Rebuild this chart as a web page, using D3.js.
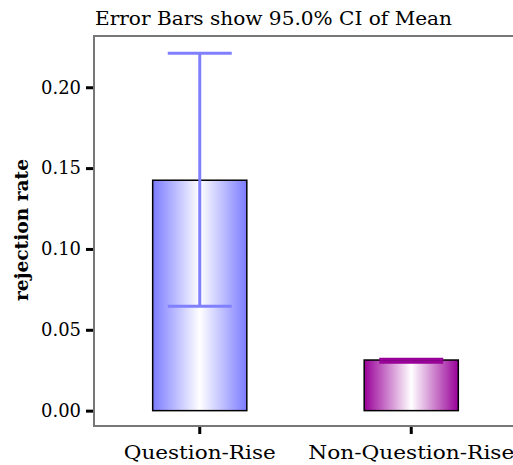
<!DOCTYPE html>
<html>
<head>
<meta charset="utf-8">
<script src="https://cdn.jsdelivr.net/npm/d3@7"></script>
<style>
  html, body { margin: 0; padding: 0; background: #ffffff; }
  svg { display: block; }
</style>
</head>
<body>
<svg id="chart" width="513" height="465"></svg>
<script>
// ---- data ----
const categories = ["Question-Rise", "Non-Question-Rise"];
const means = [0.1425, 0.0313];
const ciLow = [0.0645, 0.0300];
const ciHigh = [0.2210, 0.0318];
const yTicks = [0.00, 0.05, 0.10, 0.15, 0.20];
const titleText = "Error Bars show 95.0% CI of Mean";
const yLabel = "rejection rate";

(function () {
// ---- layout ----
const pLeft = 94, pTop = 36, pBottom = 426, pRight = 513;
const svg = d3.select("#chart");
const fontFam = "'DejaVu Serif', 'Liberation Serif', serif";

const y = d3.scaleLinear().domain([-0.0095, 0.2317]).range([pBottom, pTop]);
const x = d3.scaleBand().domain(categories).range([pLeft, 517])
  .paddingInner(0.555).paddingOuter(0.2775);

const fills = ["#7b7bff", "#990099"];
const capColors = ["#8080ff", "#990099"];

// gradients
const defs = svg.append("defs");
fills.forEach((c, i) => {
  const g = defs.append("linearGradient").attr("id", "grad" + i)
    .attr("x1", "0%").attr("x2", "100%").attr("y1", "0%").attr("y2", "0%");
  g.append("stop").attr("offset", "0%").attr("stop-color", c);
  g.append("stop").attr("offset", "50%").attr("stop-color", "#ffffff");
  g.append("stop").attr("offset", "100%").attr("stop-color", c);
});

// top frame line
svg.append("line").attr("x1", pLeft).attr("x2", pRight).attr("y1", pTop).attr("y2", pTop)
  .attr("stroke", "#777").attr("stroke-width", 2);

// bars
svg.selectAll("rect.bar").data(categories).enter().append("rect")
  .attr("class", "bar")
  .attr("x", d => x(d))
  .attr("width", x.bandwidth())
  .attr("y", (d, i) => y(means[i]))
  .attr("height", (d, i) => y(0) - y(means[i]))
  .attr("fill", (d, i) => "url(#grad" + i + ")")
  .attr("stroke", "#000").attr("stroke-width", 1.5);

// error bars
const capHalf = 32;
categories.forEach((c, i) => {
  const cx = x(c) + x.bandwidth() / 2;
  const g = svg.append("g").attr("stroke", capColors[i]).attr("stroke-width", 3);
  g.append("line").attr("x1", cx).attr("x2", cx).attr("y1", y(ciHigh[i])).attr("y2", y(ciLow[i]));
  g.append("line").attr("x1", cx - capHalf).attr("x2", cx + capHalf).attr("y1", y(ciHigh[i])).attr("y2", y(ciHigh[i]));
  g.append("line").attr("x1", cx - capHalf).attr("x2", cx + capHalf).attr("y1", y(ciLow[i])).attr("y2", y(ciLow[i]));
});

// y axis
const yAxis = d3.axisLeft(y).tickValues(yTicks).tickFormat(d3.format(".2f")).tickSize(8).tickPadding(5);
const ya = svg.append("g").attr("transform", `translate(${pLeft},0)`).call(yAxis);
ya.select(".domain").remove();
ya.selectAll(".tick line").attr("stroke", "#000").attr("stroke-width", 3);
ya.selectAll(".tick text").attr("font-family", fontFam).attr("font-size", 18).attr("fill", "#000")
  .attr("textLength", 40).attr("lengthAdjust", "spacingAndGlyphs");
svg.append("line").attr("x1", pLeft).attr("x2", pLeft).attr("y1", pTop - 1).attr("y2", pBottom)
  .attr("stroke", "#777").attr("stroke-width", 2);

// x axis
const xAxis = d3.axisBottom(x).tickSize(8).tickPadding(12);
const xa = svg.append("g").attr("transform", `translate(0,${pBottom})`).call(xAxis);
xa.select(".domain").remove();
xa.selectAll(".tick line").attr("stroke", "#000").attr("stroke-width", 3);
const xLabelW = { "Question-Rise": 152, "Non-Question-Rise": 206 };
xa.selectAll(".tick text").attr("font-family", fontFam).attr("font-size", 18).attr("fill", "#000")
  .attr("textLength", d => xLabelW[d]).attr("lengthAdjust", "spacingAndGlyphs");
svg.append("line").attr("x1", pLeft - 1).attr("x2", pRight).attr("y1", pBottom).attr("y2", pBottom)
  .attr("stroke", "#777").attr("stroke-width", 2);

// title
svg.append("text").attr("x", 95).attr("y", 25)
  .attr("font-family", fontFam).attr("font-size", 18).attr("fill", "#000")
  .attr("textLength", 357).attr("lengthAdjust", "spacingAndGlyphs")
  .text(titleText);

// y label
svg.append("text").attr("transform", "translate(28,230) rotate(-90)")
  .attr("text-anchor", "middle")
  .attr("font-family", fontFam).attr("font-size", 18).attr("font-weight", "bold").attr("fill", "#000")
  .attr("textLength", 142).attr("lengthAdjust", "spacingAndGlyphs")
  .text(yLabel);
})();
</script>
</body>
</html>
